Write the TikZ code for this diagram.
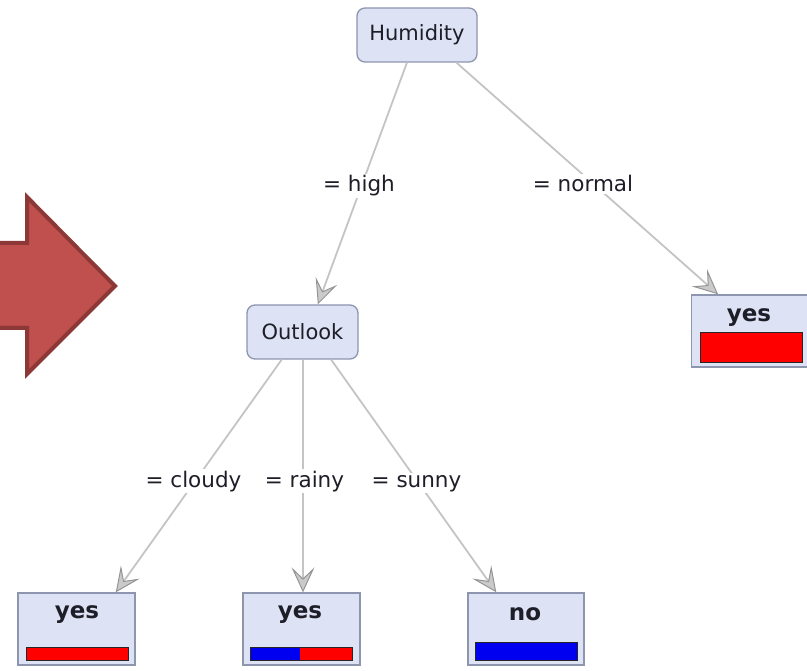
\documentclass[tikz,border=0pt]{standalone}
\usepackage{fontspec}
\setmainfont{DejaVu Sans}
\usetikzlibrary{arrows.meta}
\definecolor{boxfill}{HTML}{DDE2F4}
\definecolor{boxline}{HTML}{8E95AE}
\definecolor{edgegray}{HTML}{C4C4C4}
\definecolor{tipgray}{HTML}{959595}
\definecolor{arrowfill}{HTML}{C0504D}
\definecolor{arrowline}{HTML}{8C3836}
\definecolor{barred}{HTML}{FF0000}
\definecolor{barblue}{HTML}{0000F0}
\definecolor{ink}{HTML}{1E1E28}

\begin{document}
\begin{tikzpicture}[x=1pt,y=-1pt,
  split/.style={draw=boxline, line width=1.3pt, fill=boxfill, rounded corners=8pt,
    minimum height=54pt, inner sep=0pt, font=\fontsize{21}{24}\selectfont, text=ink},
  leaf/.style={draw=boxline, line width=1.3pt, fill=boxfill, minimum width=117pt,
    minimum height=72pt, inner sep=0pt},
  leaftext/.style={anchor=base, inner sep=0pt, font=\bfseries\fontsize{23}{26}\selectfont, text=ink},
  bar/.style={draw=black!85, line width=1pt, inner sep=0pt, minimum width=102pt},
  edge/.style={draw=edgegray, line width=1.8pt,
    -{Stealth[length=25pt, width=23pt, inset=11pt, color=tipgray, fill=tipgray!50, line width=1pt]}},
  cond/.style={anchor=base, fill=white, inner sep=1.5pt,
    font=\fontsize{21.5}{24}\selectfont, text=ink}
]
\useasboundingbox (0,0) rectangle (807,671);

% big block arrow on the left
\filldraw[fill=arrowfill, draw=arrowline, line width=4pt, line join=miter]
  (-10,243) -- (27,243) -- (27,197) -- (115,286) -- (27,374) -- (27,328) -- (-10,328) -- cycle;

% split nodes
\node[split, minimum width=120pt] (hum) at (417,35) {Humidity};
\node[split, minimum width=111pt] (out) at (302.5,332) {Outlook};

% leaves
\node[leaf] (yesR) at (750,331) {};
\node[leaf] (leafA) at (76.5,629) {};
\node[leaf] (leafB) at (301.5,629) {};
\node[leaf, minimum width=116pt] (leafC) at (526,629) {};

\node[leaftext] (tR) at (749,322) {yes};
\node[leaftext] (tA) at (77,618) {yes};
\node[leaftext] (tB) at (300,618) {yes};
\node[leaftext] (tC) at (525,620) {no};

% class distribution bars
\node[bar, fill=barred, minimum height=30pt] (barR) at (751,348) {};
\node[bar, fill=barred, minimum height=13pt] (barA) at (77,653.5) {};
\node[bar, fill=barred, minimum height=13pt,
  path picture={\fill[barblue] (path picture bounding box.north west)
    rectangle ([xshift=50pt]path picture bounding box.south west);}] (barB) at (301,653.5) {};
\node[bar, fill=barblue, minimum height=18pt] (barC) at (526,651) {};

% edges
\draw[edge] (hum.250) -- (out.61);
\draw[edge] (hum.325) -- (yesR.131);
\draw[edge] (out.233) -- (leafA.43);
\draw[edge] ([xshift=0.5pt]out.south) -- ([xshift=0.5pt]out.south |- leafB.north);
\draw[edge] (out.316) -- (leafC.129);

% edge conditions
\node[cond] (cHigh) at (359,192) {= high};
\node[cond] (cNormal) at (583,192) {= normal};
\node[cond] (cCloudy) at (193.5,487) {= cloudy};
\node[cond] (cRainy) at (304.5,487) {= rainy};
\node[cond] (cSunny) at (416.5,487) {= sunny};
\end{tikzpicture}
\end{document}
